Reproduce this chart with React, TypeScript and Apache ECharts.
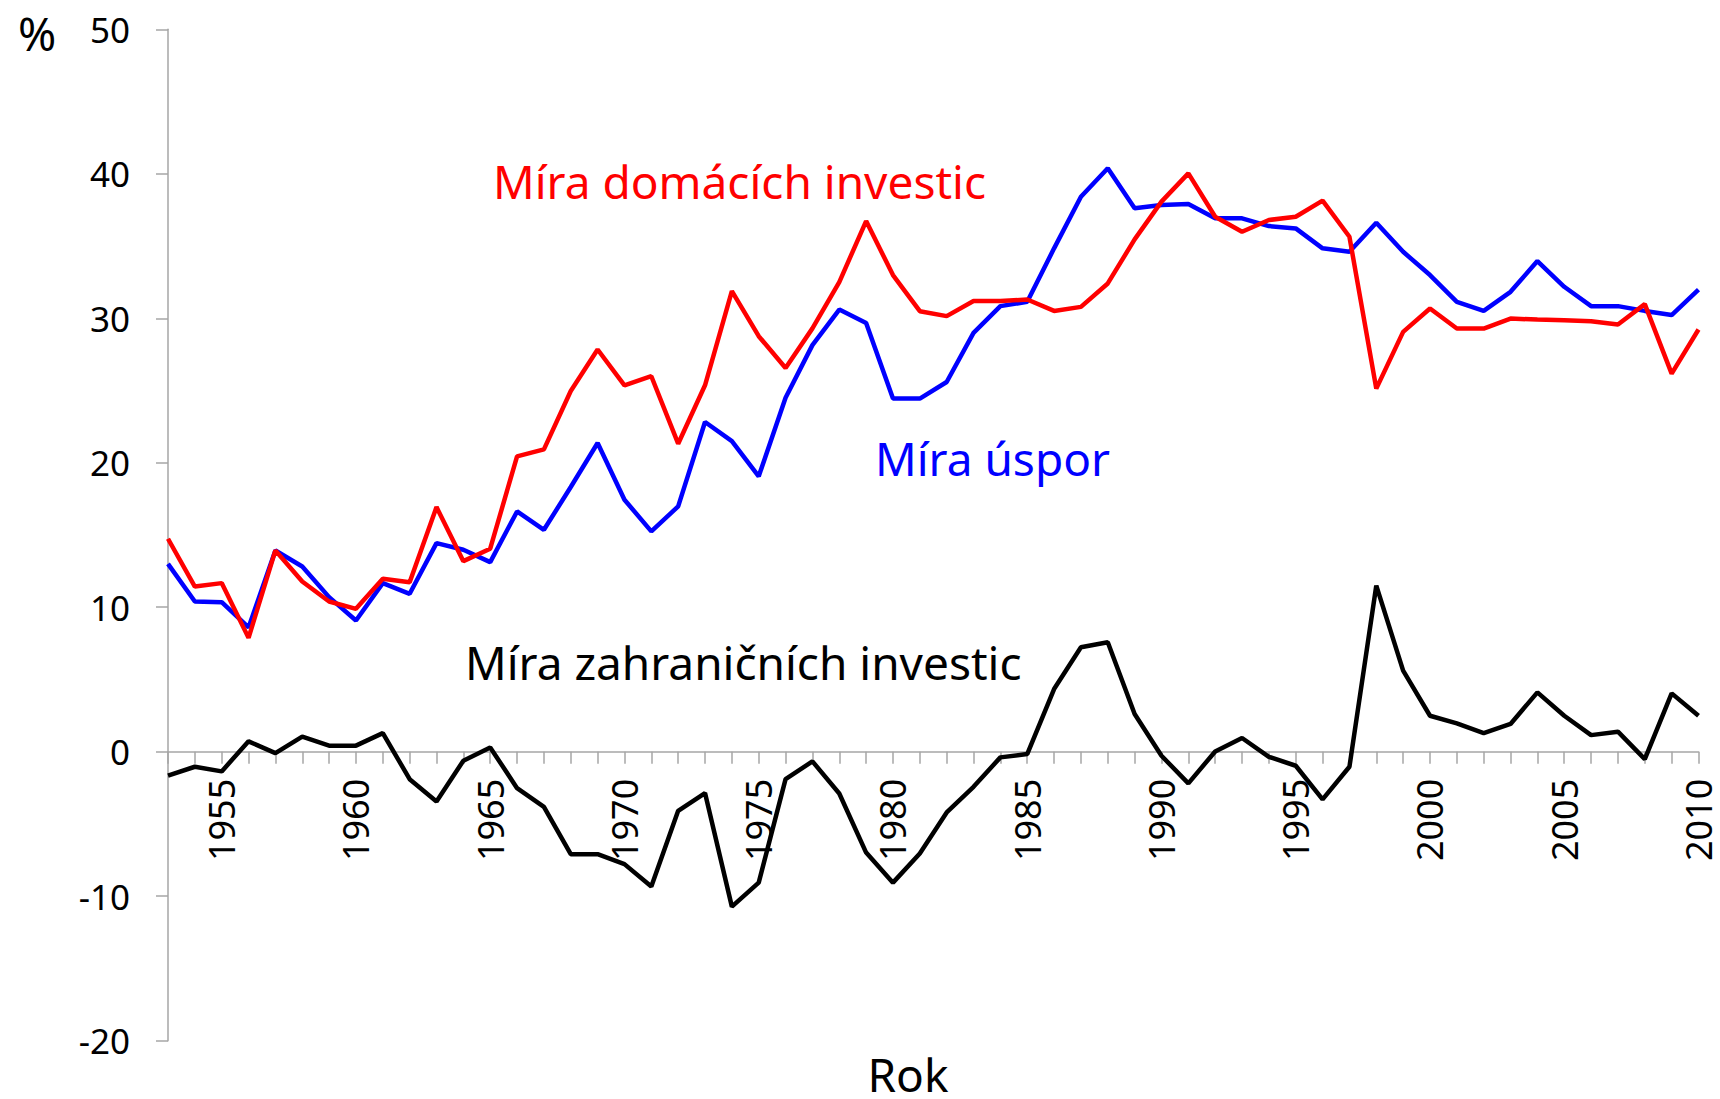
import React, { useEffect, useRef } from "react";
import * as echarts from "echarts";

const years: string[] = [];
for (let y = 1953; y <= 2010; y++) years.push(String(y));

const domesticInvestment = [
  14.74, 11.43, 11.67, 7.88, 13.93, 11.78, 10.4, 9.89, 11.97, 11.73,
  16.93, 13.19, 14.05, 20.44, 20.93, 24.97, 27.84, 25.36, 25.99, 21.32,
  25.36, 31.88, 28.76, 26.56, 29.3, 32.5, 36.73, 32.99, 30.49, 30.15,
  31.19, 31.19, 31.3, 30.51, 30.79, 32.41, 35.46, 38.07, 40.03, 37.03,
  35.99, 36.8, 37.03, 38.14, 35.64, 25.13, 29.06, 30.68, 29.29, 29.29,
  29.98, 29.91, 29.87, 29.8, 29.57, 30.98, 26.17, 29.22,
];

const savings = [
  13.0, 10.4, 10.35, 8.6, 13.93, 12.82, 10.7, 9.08, 11.67, 10.93,
  14.44, 13.98, 13.12, 16.63, 15.36, 18.32, 21.37, 17.44, 15.25, 16.98,
  22.82, 21.5, 19.06, 24.5, 28.14, 30.6, 29.68, 24.44, 24.44, 25.59,
  28.99, 30.84, 31.14, 34.84, 38.41, 40.38, 37.61, 37.84, 37.91, 36.92,
  36.92, 36.38, 36.22, 34.84, 34.6, 36.61, 34.6, 32.99, 31.14, 30.51,
  31.83, 33.96, 32.18, 30.84, 30.84, 30.51, 30.22, 31.99,
];

const foreignInvestment = [
  -1.66, -1.04, -1.36, 0.72, -0.1, 1.04, 0.42, 0.42, 1.29, -1.9,
  -3.44, -0.62, 0.3, -2.52, -3.81, -7.09, -7.09, -7.78, -9.33, -4.09,
  -2.86, -10.72, -9.06, -1.9, -0.67, -2.89, -6.98, -9.06, -7.04, -4.2,
  -2.43, -0.39, -0.16, 4.34, 7.23, 7.58, 2.61, -0.28, -2.19, 0.02,
  0.95, -0.35, -0.97, -3.3, -1.04, 11.5, 5.61, 2.49, 1.96, 1.29,
  1.92, 4.11, 2.49, 1.15, 1.39, -0.51, 4.04, 2.49,
];

const Y_MIN = -20;
const Y_MAX = 50;
const FONT = '"Noto Sans", "Open Sans", sans-serif';
const AXIS_GRAY = "#A6A6A6";

const GRID_TOP = 29.3;
const GRID_BOTTOM = 58.3;
const CHART_H = 1099;

export default function App() {
  const ref = useRef<HTMLDivElement | null>(null);

  useEffect(() => {
    if (!ref.current) return;
    const chart = echarts.init(ref.current, undefined, { renderer: "svg" });
    const plotH = CHART_H - GRID_TOP - GRID_BOTTOM;
    // distance of value 0 above the bottom edge of the plot
    const zeroOffset = ((0 - Y_MIN) / (Y_MAX - Y_MIN)) * plotH;
    chart.setOption({
      animation: false,
      backgroundColor: "#ffffff",
      grid: {
        left: 168,
        right: 21.5,
        top: GRID_TOP,
        bottom: GRID_BOTTOM,
        containLabel: false,
        outerBoundsMode: "none",
      },
      xAxis: {
        type: "category",
        data: years,
        boundaryGap: false,
        position: "bottom",
        offset: -zeroOffset,
        axisLine: { show: true, onZero: false, lineStyle: { color: AXIS_GRAY, width: 1.5 } },
        axisTick: { show: true, interval: 0, length: 12, inside: false, lineStyle: { color: AXIS_GRAY, width: 1.5 } },
        axisLabel: {
          interval: (_i: number, v: string) => Number(v) % 5 === 0,
          rotate: 90,
          margin: 27,
          fontSize: 36,
          fontFamily: FONT,
          color: "#000000",
        },
        splitLine: { show: false },
      },
      yAxis: {
        type: "value",
        min: Y_MIN,
        max: Y_MAX,
        interval: 10,
        axisLine: { show: true, lineStyle: { color: AXIS_GRAY, width: 1.5 } },
        axisTick: { show: true, length: 12, inside: false, lineStyle: { color: AXIS_GRAY, width: 1.5 } },
        axisLabel: { margin: 38, fontSize: 35, fontFamily: FONT, color: "#000000" },
        splitLine: { show: false },
      },
      series: [
        {
          name: "Míra úspor",
          type: "line",
          data: savings,
          symbol: "none",
          lineStyle: { color: "#0000FF", width: 4.5 },
          z: 2,
        },
        {
          name: "Míra domácích investic",
          type: "line",
          data: domesticInvestment,
          symbol: "none",
          lineStyle: { color: "#FF0000", width: 4.5 },
          z: 3,
        },
        {
          name: "Míra zahraničních investic",
          type: "line",
          data: foreignInvestment,
          symbol: "none",
          lineStyle: { color: "#000000", width: 4.5 },
          z: 4,
        },
      ],
      graphic: [
        {
          type: "text",
          x: 37,
          y: 33,
          style: { text: "%", fontSize: 46, fontFamily: FONT, fill: "#000000", align: "center", verticalAlign: "middle" },
        },
        {
          type: "text",
          x: 493,
          y: 181,
          style: { text: "Míra domácích investic", fontSize: 46, fontFamily: FONT, fill: "#FF0000", align: "left", verticalAlign: "middle" },
        },
        {
          type: "text",
          x: 875,
          y: 458,
          style: { text: "Míra úspor", fontSize: 46, fontFamily: FONT, fill: "#0000FF", align: "left", verticalAlign: "middle" },
        },
        {
          type: "text",
          x: 465,
          y: 662,
          style: { text: "Míra zahraničních investic", fontSize: 46, fontFamily: FONT, fill: "#000000", align: "left", verticalAlign: "middle" },
        },
        {
          type: "text",
          x: 908,
          y: 1074,
          style: { text: "Rok", fontSize: 46, fontFamily: FONT, fill: "#000000", align: "center", verticalAlign: "middle" },
        },
      ],
    });
    return () => chart.dispose();
  }, []);

  return (
    <div
      ref={ref}
      style={{ position: "absolute", left: 0, top: 0, width: 1720, height: 1099, background: "#fff" }}
    />
  );
}
